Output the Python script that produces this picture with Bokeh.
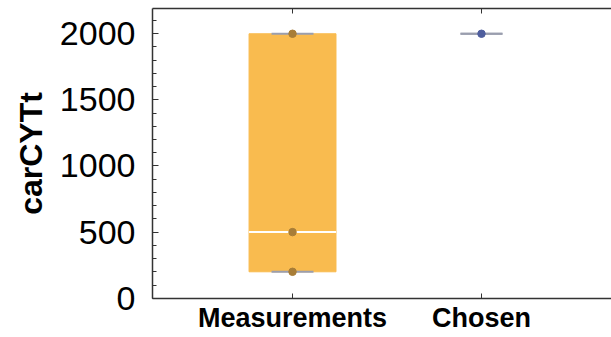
import numpy as np
from bokeh.plotting import figure
from bokeh.models import (Range1d, FixedTicker, SingleIntervalTicker, LinearAxis,
                          ColumnDataSource, CustomLabelingPolicy)
from bokeh.embed import file_html
from bokeh.resources import INLINE

categories = ["Measurements", "Chosen"]
x_pos = [1, 2]
measurements = [200, 500, 2000]
chosen = [2000]
y_label = "carCYTt"

groups = [measurements, chosen]
lows = [float(np.min(g)) for g in groups]
meds = [float(np.median(g)) for g in groups]
highs = [float(np.max(g)) for g in groups]

p = figure(width=611, height=337, output_backend="svg", toolbar_location=None,
           x_range=Range1d(0.259, 2.688), y_range=Range1d(-2, 2191),
           min_border_left=152, min_border_right=0, min_border_top=8, min_border_bottom=39)
p.grid.visible = False
p.outline_line_color = None
p.background_fill_color = "white"
p.border_fill_color = "white"

# box (Measurements only has a visible box)
p.vbar(x=[x_pos[0]], bottom=[lows[0]], top=[highs[0]], width=0.46,
       fill_color="#F9BB4F", line_color="#F9BB4F", line_width=1)
p.segment(x0=[x_pos[0] - 0.23], x1=[x_pos[0] + 0.23], y0=[meds[0]], y1=[meds[0]],
          line_color="white", line_width=2)

# whisker caps
cap_src = ColumnDataSource(dict(
    x0=[x - 0.111 for x in x_pos] * 2,
    x1=[x + 0.111 for x in x_pos] * 2,
    y=lows + highs,
))
p.segment(x0="x0", x1="x1", y0="y", y1="y", source=cap_src, line_color="#9A9EAE", line_width=2)

# points
p.scatter(x=[x_pos[0]] * len(measurements), y=measurements, size=7.5,
          fill_color="#A87D37", line_color="#A87D37")
p.scatter(x=[x_pos[1]] * len(chosen), y=chosen, size=7.5,
          fill_color="#4F5E9E", line_color="#4F5E9E")

# x axis
xa = p.xaxis[0]
xa.ticker = FixedTicker(ticks=x_pos)
xa.major_label_overrides = {x: c for x, c in zip(x_pos, categories)}
xa.major_label_text_font = "Liberation Sans"
xa.major_label_text_font_style = "bold"
xa.major_label_text_font_size = "27px"
xa.major_label_text_color = "black"
xa.major_tick_in = 5
xa.major_tick_out = 0
xa.minor_tick_line_color = None
xa.major_label_standoff = 4
xa.axis_line_color = "#333333"
xa.axis_line_width = 1.5
xa.major_tick_line_color = "#333333"

# top frame line with ticks (no labels)
ta = LinearAxis(ticker=FixedTicker(ticks=x_pos),
                major_label_policy=CustomLabelingPolicy(code="return new Set()"))
ta.major_label_text_font_size = "0px"
ta.major_label_standoff = 0
ta.major_tick_in = 5
ta.major_tick_out = 0
ta.minor_tick_line_color = None
ta.axis_line_color = "#333333"
ta.axis_line_width = 1.5
ta.major_tick_line_color = "#333333"
p.add_layout(ta, "above")

# y axis
ya = p.yaxis[0]
ya.ticker = SingleIntervalTicker(interval=500, num_minor_ticks=5)
ya.major_label_text_font = "Liberation Sans"
ya.major_label_text_font_size = "34px"
ya.major_label_text_color = "black"
ya.major_tick_in = 6
ya.major_tick_out = 0
ya.minor_tick_in = 4
ya.minor_tick_out = 0
ya.major_label_standoff = 17
ya.axis_line_color = "#333333"
ya.axis_line_width = 1.5
ya.major_tick_line_color = "#333333"
ya.minor_tick_line_color = "#333333"
ya.axis_label = y_label
ya.axis_label_text_font = "Liberation Sans"
ya.axis_label_text_font_style = "bold"
ya.axis_label_text_font_size = "32px"
ya.axis_label_text_color = "black"
ya.axis_label_standoff = 8

open("out.html", "w").write(file_html(p, INLINE))
